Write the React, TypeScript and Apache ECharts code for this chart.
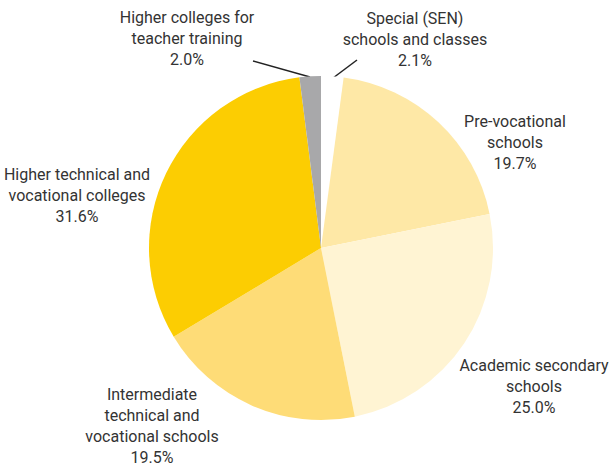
import React, { useEffect, useRef } from "react";
import * as echarts from "echarts";

const categories = [
  "Special (SEN)\nschools and classes",
  "Pre-vocational\nschools",
  "Academic secondary\nschools",
  "Intermediate\ntechnical and\nvocational schools",
  "Higher technical and\nvocational colleges",
  "Higher colleges for\nteacher training",
];
const shares = [2.1, 19.7, 25.0, 19.5, 31.6, 2.0];
const colors = ["#FFFFFF", "#FEE8A6", "#FFF4D3", "#FEDC77", "#FCCD02", "#A8A8AA"];
const labelPos: [number, number][] = [
  [415, 39],
  [515, 142],
  [534, 386],
  [152, 426],
  [77, 195],
  [187, 38],
];
const leaderLines: ([number, number][] | null)[] = [
  [[357, 60], [333, 78]],
  null,
  null,
  null,
  null,
  [[253, 61], [310, 77]],
];

export default function App() {
  const ref = useRef<HTMLDivElement>(null);
  useEffect(() => {
    if (!ref.current) return;
    const chart = echarts.init(ref.current, null, { renderer: "svg" });
    chart.setOption({
      animation: false,
      backgroundColor: "#FFFFFF",
      series: [
        {
          type: "pie",
          center: [321, 248],
          radius: 172,
          startAngle: 90,
          clockwise: true,
          avoidLabelOverlap: false,
          emphasis: { disabled: true },
          data: categories.map((name, i) => ({
            name,
            value: shares[i],
            itemStyle: { color: colors[i] },
            labelLine: { show: !!leaderLines[i] },
          })),
          label: {
            show: true,
            formatter: (p: any) => `${p.name}\n${p.value.toFixed(1)}%`,
            fontFamily: "'Liberation Sans Narrow', 'Roboto', sans-serif",
            fontSize: 16,
            lineHeight: 21,
            color: "#333333",
            align: "center",
          },
          labelLine: {
            lineStyle: { color: "#222222", width: 1.5 },
          },
          labelLayout: (params: any) => {
            const i = params.dataIndex;
            const out: any = {
              x: labelPos[i][0],
              y: labelPos[i][1],
              align: "center",
              verticalAlign: "middle",
            };
            if (leaderLines[i]) out.labelLinePoints = leaderLines[i];
            return out;
          },
        },
      ],
    });
    return () => chart.dispose();
  }, []);
  return (
    <div
      ref={ref}
      style={{ position: "fixed", left: 0, top: 0, width: 615, height: 471 }}
    />
  );
}
